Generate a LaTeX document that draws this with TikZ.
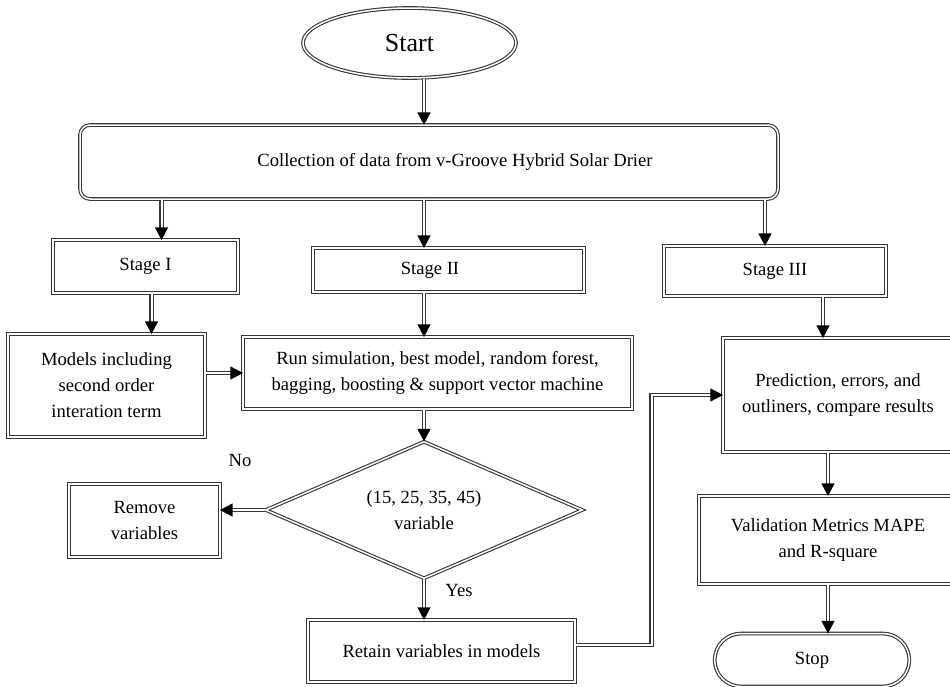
\documentclass[tikz,border=0pt]{standalone}
\usepackage{fontspec}
\setmainfont{Liberation Serif}
\usetikzlibrary{positioning,shapes.geometric,shapes.misc,calc,decorations.markings}
\definecolor{edge}{RGB}{55,55,55}

\begin{document}
\begin{tikzpicture}[
  x=0.5pt, y=-0.5pt,
  every node/.style={font=\fontsize{9.3}{13}\selectfont},
  dbl/.style={draw=edge, double=white, double distance=0.75pt, line width=0.55pt},
  box/.style={dbl, rectangle, align=center, inner sep=2pt},
  arr/.style={draw=edge, double=white, double distance=1pt, line width=0.65pt, shorten >=5.5pt,
    postaction={decorate, decoration={markings,
      mark=at position 1 with {\fill[black] (0.3pt,0) -- (-6pt,3.3pt) -- (-6pt,-3.3pt) -- cycle;}}}}
]
  \useasboundingbox (0,0) rectangle (950,687);
  \clip (0,0) rectangle (950,687);

  \node[dbl, ellipse, minimum width=106.5pt, minimum height=35pt, font=\fontsize{13}{15}\selectfont] (start) at (409.5,43) {Start};
  \node[box, rounded corners=5pt, minimum width=349pt, minimum height=37pt] (coll) at (429,162) {\hspace*{26pt}Collection of data from v-Groove Hybrid Solar Drier};

  \node[box, minimum width=92.5pt, minimum height=26.5pt] (stage1) at (145.5,266.5) {Stage I};
  \node[box, minimum width=135.5pt, minimum height=22pt] (stage2) at (448.5,270) {Stage II\hspace*{18.5pt}};
  \node[box, minimum width=111pt, minimum height=25pt] (stage3) at (775,271) {Stage III};

  \node[box, minimum width=98.5pt, minimum height=51.5pt] (models) at (106.5,385.5) {Models including\\ second order\\ interation term};
  \node[box, minimum width=194.5pt, minimum height=36pt] (run) at (437.5,373) {Run simulation, best model, random forest,\\ bagging, boosting \& support vector machine};
  \node[dbl, diamond, aspect=2.3, align=center, inner sep=1pt, minimum width=158.5pt, minimum height=68.5pt] (dec) at (424,510) {(15, 25, 35, 45)\\ variable};
  \node[box, minimum width=75.5pt, minimum height=36.5pt] (remove) at (144.5,520.5) {Remove\\ variables};
  \node[box, minimum width=133.5pt, minimum height=31pt] (retain) at (441.5,651) {Retain variables in models};

  \node[box, minimum width=115pt, minimum height=57pt] (pred) at (838,395) {Prediction, errors, and\\ outliners, compare results};
  \node[box, minimum width=129pt, minimum height=44pt] (valid) at (828,540) {Validation Metrics MAPE\\ and R-square};
  \node[dbl, rounded rectangle, minimum width=104pt, minimum height=26.5pt] (stop) at (812,660) {Stop};

  \node (no) at (240,460) {No};
  \node (yes) at (459,590) {Yes};

  \draw[arr] (start.south -| dec.north) -- (coll.north -| dec.north);
  \draw[arr] ([xshift=8pt]stage1.north |- coll.south) -- ([xshift=8pt]stage1.north);
  \draw[arr] (dec.north |- coll.south) -- (dec.north |- stage2.north);
  \draw[arr] ([xshift=-5pt]stage3.north |- coll.south) -- ([xshift=-5pt]stage3.north);
  \draw[arr] ([xshift=3pt]stage1.south) -- ([xshift=3pt]stage1.south |- models.north);
  \draw[arr] (dec.north |- stage2.south) -- (dec.north |- run.north);
  \draw[arr] ([xshift=24pt]stage3.south) -- ([xshift=24pt]stage3.south |- pred.north);
  \draw[arr] (models.east |- run.west) -- (run.west);
  \draw[arr] (dec.north |- run.south) -- (dec.north);
  \draw[arr] (dec.west) -- (dec.west -| remove.east);
  \draw[arr] (dec.south) -- (dec.south |- retain.north);
  \draw[arr] ([yshift=3pt]retain.east) -- ++(38pt,0) |- (pred.west);
  \draw[arr] (valid.north |- pred.south) -- (valid.north);
  \draw[arr] (valid.south) -- (valid.south |- stop.north);
\end{tikzpicture}
\end{document}
